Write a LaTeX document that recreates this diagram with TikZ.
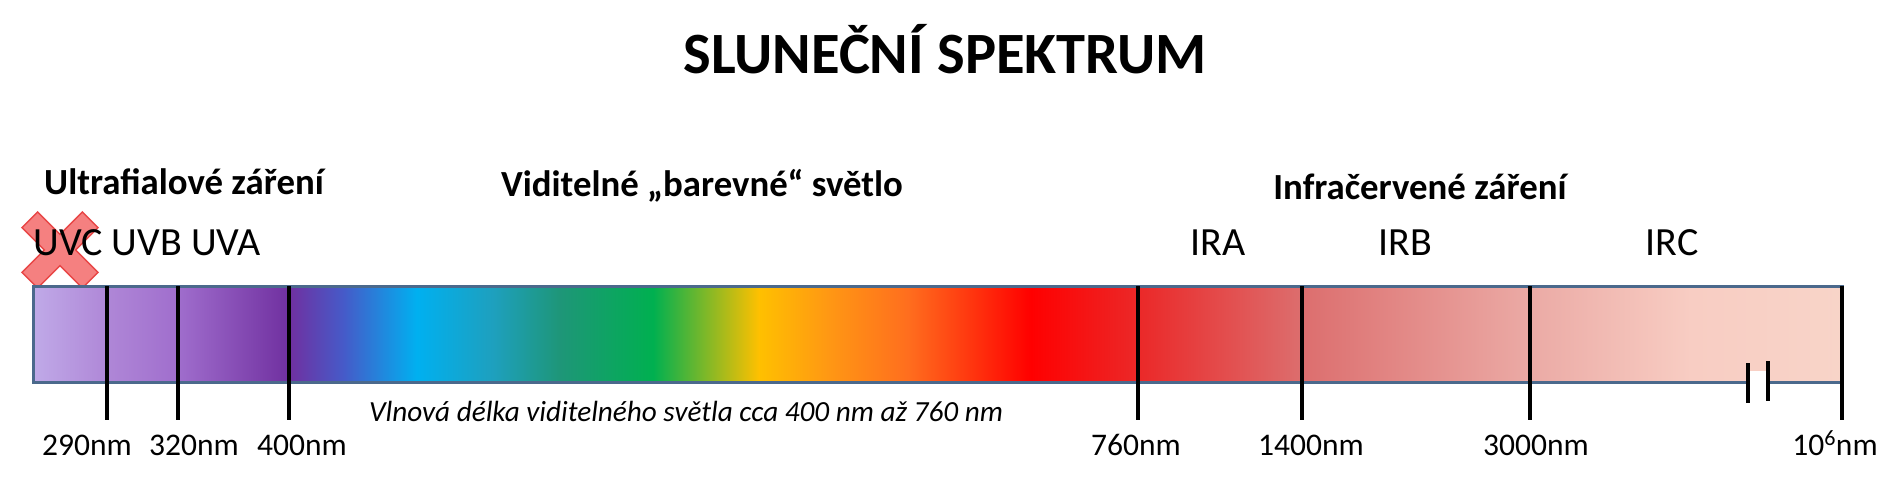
\documentclass[tikz,border=0pt]{standalone}
\usepackage{fontspec}
\setmainfont{Carlito}
\usetikzlibrary{positioning}

\definecolor{sp01}{RGB}{192,170,232}
\definecolor{sp02}{RGB}{175,135,215}
\definecolor{sp03}{RGB}{160,110,205}
\definecolor{sp04}{RGB}{112,48,160}
\definecolor{sp05}{RGB}{70,90,200}
\definecolor{sp06}{RGB}{0,176,240}
\definecolor{sp07}{RGB}{30,160,190}
\definecolor{sp08}{RGB}{30,150,120}
\definecolor{sp09}{RGB}{0,176,80}
\definecolor{sp10}{RGB}{255,192,0}
\definecolor{sp11}{RGB}{255,150,20}
\definecolor{sp12}{RGB}{255,110,30}
\definecolor{sp13}{RGB}{255,0,0}
\definecolor{sp14}{RGB}{235,40,40}
\definecolor{sp15}{RGB}{220,110,110}
\definecolor{sp16}{RGB}{235,170,165}
\definecolor{sp17}{RGB}{248,205,195}
\definecolor{sp18}{RGB}{248,212,200}
\definecolor{baredge}{RGB}{75,105,140}
\definecolor{xfill}{RGB}{245,128,128}
\definecolor{xedge}{RGB}{232,70,70}

\pgfdeclarehorizontalshading{spectrum}{100bp}{%
  color(0bp)=(sp01); color(25bp)=(sp01); color(27.05bp)=(sp02);
  color(28.98bp)=(sp03); color(32.08bp)=(sp04); color(33.57bp)=(sp05);
  color(35.61bp)=(sp06); color(37.71bp)=(sp07); color(39.57bp)=(sp08);
  color(42.14bp)=(sp09); color(45.07bp)=(sp10); color(47.06bp)=(sp11);
  color(49.18bp)=(sp12); color(52.58bp)=(sp13); color(55.54bp)=(sp14);
  color(60.07bp)=(sp15); color(66.38bp)=(sp16); color(70.83bp)=(sp17);
  color(75bp)=(sp18); color(100bp)=(sp18)}

\begin{document}
\begin{tikzpicture}[x=1pt,y=-1pt,
  heading/.style={anchor=base,font=\fontsize{36.8}{40}\selectfont\bfseries},
  bandlabel/.style={anchor=base,font=\fontsize{40}{43}\selectfont},
  nmlabel/.style={anchor=base,font=\fontsize{31.5}{34}\selectfont},
  tickline/.style={line width=4pt},
  breakline/.style={line width=4.5pt}]
\useasboundingbox (0,0) rectangle (1894,494);

% title and headings
\node[anchor=base,font=\fontsize{58.5}{62}\selectfont\bfseries] (title) at (945,74) {SLUNEČNÍ SPEKTRUM};
\node[heading] (uvhead) at (184,195) {Ultrafialové záření};
\node[heading] (vishead) at (702,197) {Viditelné „barevné“ světlo};
\node[heading] (irhead) at (1420,200) {Infračervené záření};

% crossed out UVC
\draw[fill=xfill,draw=xedge,line width=1.5pt,shift={(60,250)}]
  (0,15.6) -- (-22.4,38) -- (-38,22.4) -- (-15.6,0) -- (-38,-22.4) -- (-22.4,-38)
  -- (0,-15.6) -- (22.4,-38) -- (38,-22.4) -- (15.6,0) -- (38,22.4) -- (22.4,38) -- cycle;
\node[bandlabel,anchor=base west] (uvbands) at (30,256) {UVC UVB UVA};
\node[bandlabel] (ira) at (1218,256) {IRA};
\node[bandlabel] (irb) at (1405,256) {IRB};
\node[bandlabel] (irc) at (1672,256) {IRC};

% spectrum bar
\path[shading=spectrum] (33,286) rectangle (1842,382);
\draw[baredge,line width=3pt] (33,286) rectangle (1842,382);
\fill[white] (1750,371) rectangle (1766,386);
\draw[breakline] (1748,363) -- (1748,403);
\draw[breakline] (1768,361) -- (1768,401);

% ticks
\foreach \x in {107,178,289,1138,1302,1530,1842}
  \draw[tickline] (\x,286) -- (\x,420);
\foreach \x/\t/\n in {87/290nm/l290,194/320nm/l320,302/400nm/l400,1136/760nm/l760,
  1311/1400nm/l1400,1536/3000nm/l3000,1835/{10\textsuperscript{6}nm}/lmax}
  \node[nmlabel] (\n) at (\x,455) {\t};

\node[anchor=base,font=\fontsize{29.2}{31}\selectfont\itshape] (visrange) at (686,421)
  {Vlnová délka viditelného světla cca 400 nm až 760 nm};
\end{tikzpicture}
\end{document}
